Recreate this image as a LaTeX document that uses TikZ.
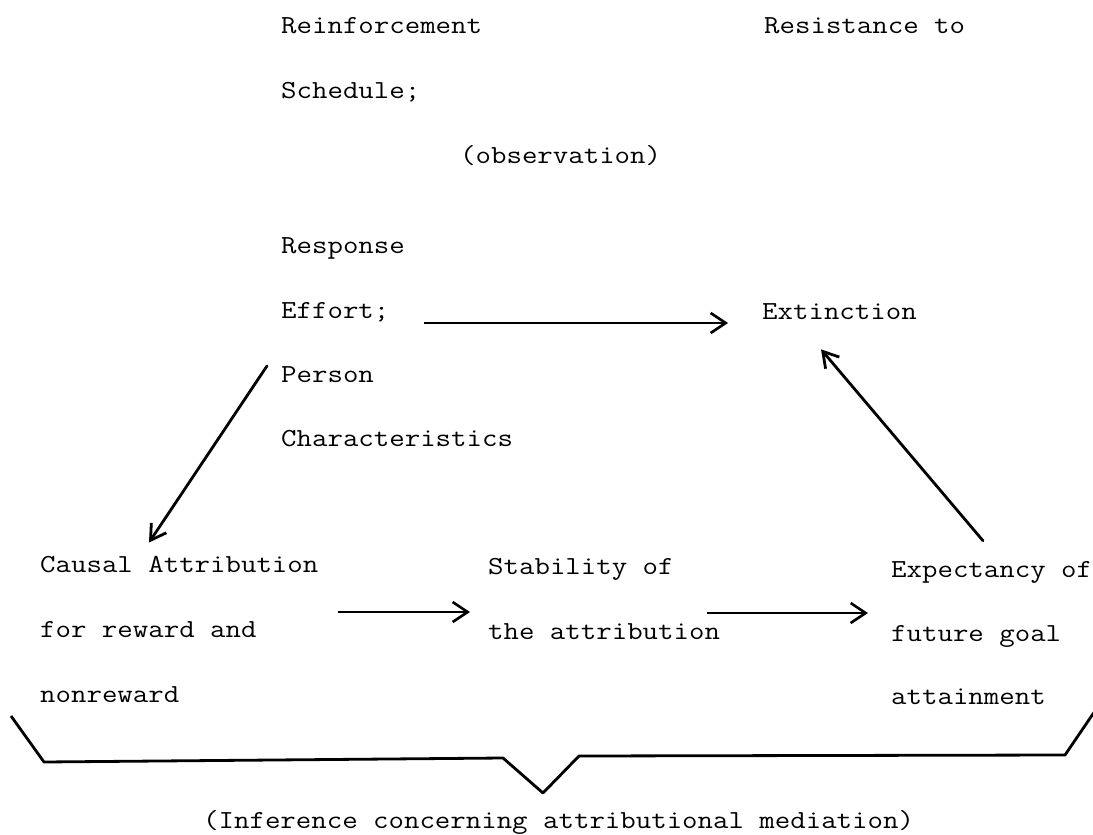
\documentclass[tikz,border=0pt]{standalone}
\usepackage{graphicx}
\usetikzlibrary{arrows.meta}
\newcommand{\tw}[1]{\scalebox{1.154}[1]{#1}}
\begin{document}
\begin{tikzpicture}[x=1pt,y=-1pt,
  txt/.style={anchor=base west, inner sep=0pt, font=\fontsize{26}{30}\selectfont\ttfamily},
  thinarrow/.style={line width=1.1pt, -{Straight Barb[length=15pt,width=20pt,line width=2.6pt]}},
  thickarrow/.style={line width=2.8pt, line cap=round, -{Straight Barb[length=15pt,width=18pt,line width=2.8pt]}},
  brace/.style={line width=2.8pt, line join=round}
]
\useasboundingbox (0,0) rectangle (1093,835);

% top block
\node[txt] (reinf)   at (281,33)  {\tw{Reinforcement}};
\node[txt] (sched)   at (281,98)  {\tw{Schedule;}};
\node[txt] (obs)     at (460,163) {\tw{(observation)}};
\node[txt] (resist)  at (764,33)  {\tw{Resistance to}};
\node[txt] (resp)    at (281,253) {\tw{Response}};
\node[txt] (effort)  at (281,318) {\tw{Effort;}};
\node[txt] (extinct) at (762,319) {\tw{Extinction}};
\node[txt] (person)  at (281,382) {\tw{Person}};
\node[txt] (charac)  at (281,446) {\tw{Characteristics}};

% bottom block
\node[txt] (causal)  at (40,572)  {\tw{Causal Attribution}};
\node[txt] (forrew)  at (40,637)  {\tw{for reward and}};
\node[txt] (nonrew)  at (40,702)  {\tw{nonreward}};
\node[txt] (stab)    at (488,574) {\tw{Stability of}};
\node[txt] (theatt)  at (488,639) {\tw{the attribution}};
\node[txt] (expect)  at (891,577) {\tw{Expectancy of}};
\node[txt] (future)  at (891,641) {\tw{future goal}};
\node[txt] (attain)  at (891,704) {\tw{attainment}};
\node[txt] (infer)   at (203,828) {\tw{(Inference concerning attributional mediation)}};

% connectors
\draw[thinarrow] ([xshift=34,yshift=-5]effort.base east) -- ([xshift=-34,yshift=-5]effort.base east -| extinct.west);
\draw[thickarrow] ([xshift=-14]person.north west) -- ([xshift=109,yshift=13]causal.north west);
\draw[thickarrow] ([xshift=92,yshift=20]expect.north west) -- ([xshift=59,yshift=-30]extinct.south west);
\draw[thinarrow] ([xshift=81,yshift=25]forrew.base east) -- ([xshift=-18,yshift=25]forrew.base east -| stab.west);
\draw[thinarrow] ([xshift=-13,yshift=26]theatt.base east) -- ([xshift=-23,yshift=26]theatt.base east -| expect.west);

% brace
\draw[brace] (11,716) -- (44,762) -- (503,758) -- (543,793) -- (579,756) -- (1065,755) -- (1097,708);
\end{tikzpicture}
\end{document}
